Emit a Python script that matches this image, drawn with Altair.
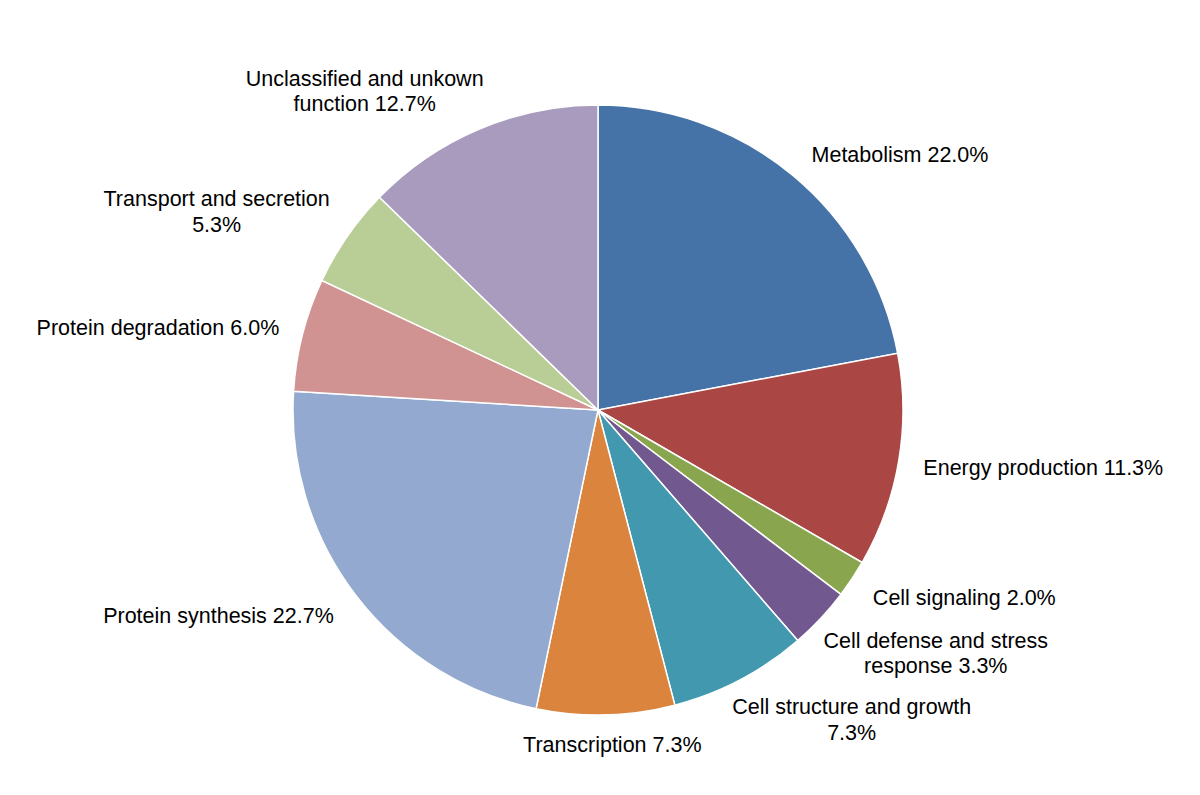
import math
import altair as alt
import pandas as pd

categories = [
    "Metabolism", "Energy production", "Cell signaling",
    "Cell defense and stress response", "Cell structure and growth",
    "Transcription", "Protein synthesis", "Protein degradation",
    "Transport and secretion", "Unclassified and unkown function",
]
values = [22.0, 11.3, 2.0, 3.3, 7.3, 7.3, 22.7, 6.0, 5.3, 12.7]
label_texts = [
    "Metabolism 22.0%",
    "Energy production 11.3%",
    "Cell signaling 2.0%",
    "Cell defense and stress\nresponse 3.3%",
    "Cell structure and growth\n7.3%",
    "Transcription 7.3%",
    "Protein synthesis 22.7%",
    "Protein degradation 6.0%",
    "Transport and secretion\n5.3%",
    "Unclassified and unkown\nfunction 12.7%",
]
colors = ["#4572A7", "#AA4643", "#89A54E", "#71588F", "#4198AF",
          "#DB843D", "#93A9CF", "#D19392", "#B9CD96", "#A99BBD"]

df = pd.DataFrame({
    "idx": list(range(len(categories))),
    "cat": categories,
    "value": values,
    "label": label_texts,
})
total = sum(values)

theta_scale = alt.Scale(domain=[0, total], range=[0, 2 * math.pi])
CX, CY = 590, 402

base = alt.Chart(df)

pie = base.mark_arc(outerRadius=305, stroke="white", strokeWidth=1.5).encode(
    theta=alt.Theta("value:Q", stack=True, scale=theta_scale),
    color=alt.Color("cat:N", scale=alt.Scale(domain=categories, range=colors), legend=None),
    order=alt.Order("idx:Q"),
    x=alt.value(CX),
    y=alt.value(CY),
)

# label layout: (align, dx, dy) relative to the anchor at radius 330 on the slice mid-angle
layout = {
    "Metabolism": ("left", 3, 0),
    "Energy production": ("left", 0, 4),
    "Cell signaling": ("left", 0, 6),
    "Cell defense and stress response": ("center", 97, 6),
    "Cell structure and growth": ("center", 100, 6),
    "Transcription": ("center", 6, 6),
    "Protein synthesis": ("right", -2, 7),
    "Protein degradation": ("right", 1, 1),
    "Transport and secretion": ("center", -110, -22),
    "Unclassified and unkown function": ("center", -105, -26),
}

layers = [pie]
for cat in categories:
    align, dx, dy = layout[cat]
    t = (
        base.transform_window(cum="sum(value)", sort=[alt.SortField("idx")], frame=[None, 0])
        .transform_calculate(mid="datum.cum - datum.value / 2")
        .transform_filter(alt.datum.cat == cat)
        .mark_text(
            radius=330, align=align, baseline="middle", dx=dx, dy=dy,
            font="Liberation Sans", fontSize=21.5, lineBreak="\n", lineHeight=25.5,
            color="#000000",
        )
        .encode(
            theta=alt.Theta("mid:Q", scale=theta_scale),
            text="label:N",
            x=alt.value(CX),
            y=alt.value(CY),
        )
    )
    layers.append(t)

chart = (
    alt.layer(*layers)
    .properties(width=1184, height=779, padding=0, autosize="none", background="white")
    .configure_view(stroke=None)
)

chart.save("out.html", embed_options={"renderer": "svg", "actions": False})
